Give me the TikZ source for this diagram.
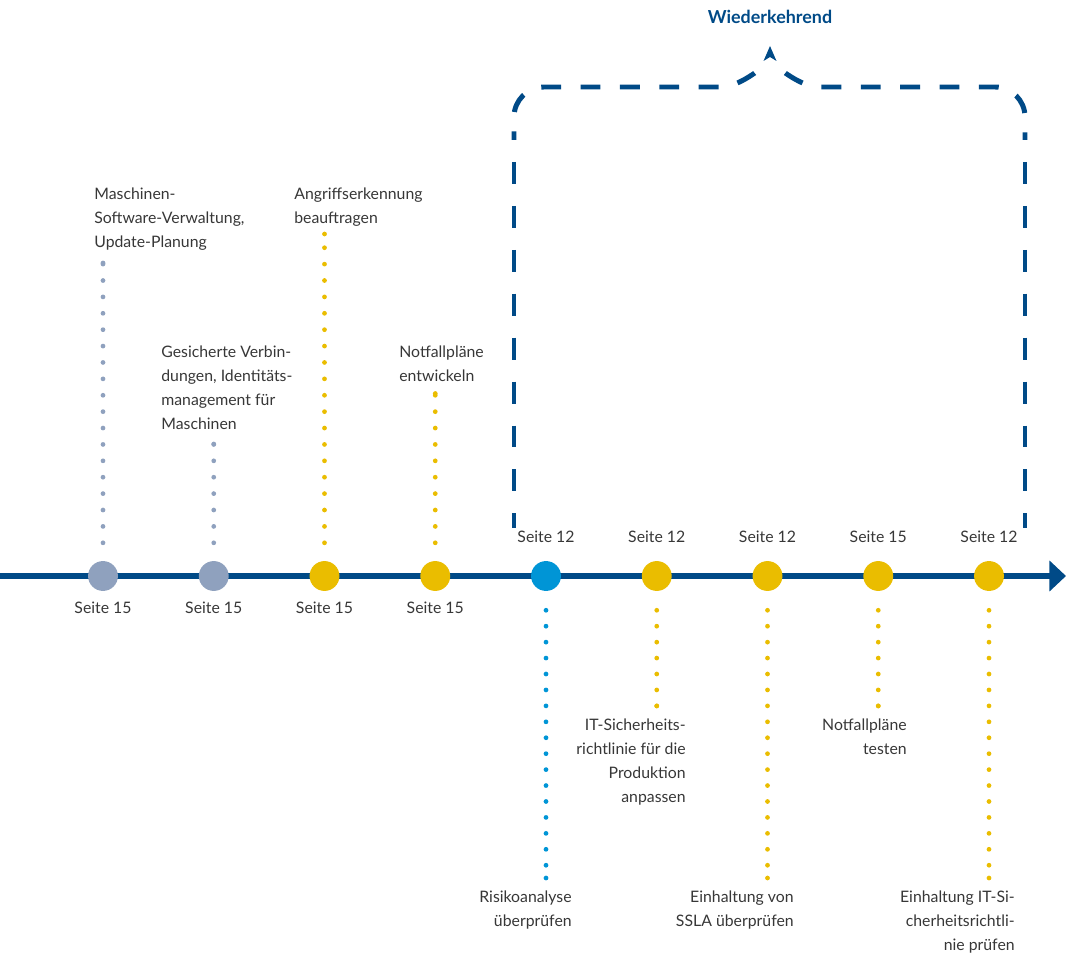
\documentclass[tikz,border=0pt]{standalone}
\usepackage{fontspec}
\setmainfont{Lato}
\usetikzlibrary{arrows.meta}
\usetikzlibrary{calc}
\definecolor{darkblue}{RGB}{0,74,135}
\definecolor{greyblue}{RGB}{143,161,190}
\definecolor{sunyellow}{RGB}{234,189,0}
\definecolor{skyblue}{RGB}{0,149,214}
\definecolor{textgrey}{RGB}{55,55,55}
\tikzstyle{milestone}=[circle,minimum size=17pt,inner sep=0pt]
\tikzstyle{dotline}=[line width=2.7pt,line cap=round]
\tikzstyle{updots}=[dotline,dash pattern=on 0pt off 9.33pt,shorten <=10.2pt]
\tikzstyle{downdots}=[dotline,dash pattern=on 0pt off 9.07pt,shorten <=10.8pt]
\tikzstyle{notetext}=[text=textgrey,inner sep=0pt,font=\fontsize{9}{13.6}\selectfont]
\tikzstyle{bracket}=[draw=darkblue,line width=2.83pt]
\tikzstyle{toppart}=[bracket,dash pattern=on 0pt off 11.1pt on 11.3pt off 0pt]
\tikzstyle{sidepart}=[bracket,dash pattern=on 0pt off 12.5pt on 12.5pt off 0pt]

\begin{document}
\begin{tikzpicture}[x=0.02cm,y=-0.02cm]
    \useasboundingbox (0,0) rectangle (1075,956);

    % timeline
    \coordinate (start) at (0,576);
    \coordinate (end) at (1066,576);
    \draw[darkblue,line width=3.4pt,-{Triangle[length=9.4pt,width=17pt]}] (start) -- (end);

    \foreach \i/\c in {1/greyblue,2/greyblue,3/sunyellow,4/sunyellow,5/skyblue,6/sunyellow,7/sunyellow,8/sunyellow,9/sunyellow}{
      \node[milestone,fill=\c] (m\i) at ({103+(\i-1)*110.75},576) {};
    }

    % page references
    \foreach \i in {1,...,4}{
      \node[notetext,anchor=base] (s\i) at ($(m\i)+(0,37)$) {Seite 15};
    }
    \node[notetext,anchor=base] (s5) at ($(m5)+(0,-34)$) {Seite 12};
    \node[notetext,anchor=base] (s6) at ($(m6)+(0,-34)$) {Seite 12};
    \node[notetext,anchor=base] (s7) at ($(m7)+(0,-34)$) {Seite 12};
    \node[notetext,anchor=base] (s8) at ($(m8)+(0,-34)$) {Seite 15};
    \node[notetext,anchor=base] (s9) at ($(m9)+(0,-34)$) {Seite 12};

    % tasks above (base = last line)
    \node[notetext,anchor=base west,align=left] (t1) at (94,247.5) {Maschinen-\\Software-Verwaltung,\\Update-Planung};
    \node[notetext,anchor=base west,align=left] (t2) at (161,429.5) {Gesicherte Verbin-\\dungen, Identitäts-\\management für\\Maschinen};
    \node[notetext,anchor=base west,align=left] (t3) at (294,223.5) {Angriffserkennung\\beauftragen};
    \node[notetext,anchor=base west,align=left] (t4) at (399,381.5) {Notfallpläne\\entwickeln};
    % tasks below
    \node[notetext,anchor=base east,align=right] (t5) at (572,926.5) {Risikoanalyse\\überprüfen};
    \node[notetext,anchor=base east,align=right] (t6) at (686,802.5) {IT-Sicherheits-\\richtlinie für die\\Produktion\\anpassen};
    \node[notetext,anchor=base east,align=right] (t7) at (794,926.5) {Einhaltung von\\SSLA überprüfen};
    \node[notetext,anchor=base east,align=right] (t8) at (907,754.5) {Notfallpläne\\testen};
    \node[notetext,anchor=base east,align=right] (t9) at (1015,950.5) {Einhaltung IT-Si-\\cherheitsrichtli-\\nie prüfen};

    % dotted leaders
    \coordinate (e1) at (m1 |- 0,263);
    \coordinate (e2) at (m2 |- 0,444);
    \coordinate (e3) at (m3 |- 0,234);
    \coordinate (e4) at (m4 |- 0,393.5);
    \coordinate (e5) at (m5 |- 0,878);
    \coordinate (e6) at (m6 |- 0,706);
    \coordinate (e7) at (m7 |- 0,878);
    \coordinate (e8) at (m8 |- 0,706);
    \coordinate (e9) at (m9 |- 0,878);
    \foreach \i/\c in {1/greyblue,2/greyblue,3/sunyellow,4/sunyellow}{
      \draw[updots,\c] (m\i) -- (e\i);
      \fill[\c] (e\i) circle (1.35pt);
    }
    \foreach \i/\c in {5/skyblue,6/sunyellow,7/sunyellow,8/sunyellow,9/sunyellow}{
      \draw[downdots,\c] (m\i) -- (e\i);
      \fill[\c] (e\i) circle (1.35pt);
    }

    % recurring bracket
    \coordinate (apex) at (770,46);
    \fill[darkblue] (apex) -- ++(6.5,15) -- ++(-6.5,-4) -- ++(-6.5,4) -- cycle;
    \draw[toppart] (770,61) -- (754,73.5) .. controls (740,83) and (730,87) .. (719,87) -- (544,87)
      .. controls (527.4,87) and (514,100.4) .. (514,117) -- (514,140);
    \draw[toppart] (770,61) -- (786,73.5) .. controls (800,83) and (810,87) .. (821,87) -- (995,87)
      .. controls (1011.6,87) and (1025,100.4) .. (1025,117) -- (1025,140);
    \draw[sidepart] (514,140) -- (514,528);
    \draw[sidepart] (1025,140) -- (1025,528);
    \node[font=\fontsize{10.2}{12}\selectfont\bfseries,text=darkblue] (rec) at (770,17) {Wiederkehrend};
\end{tikzpicture}
\end{document}
